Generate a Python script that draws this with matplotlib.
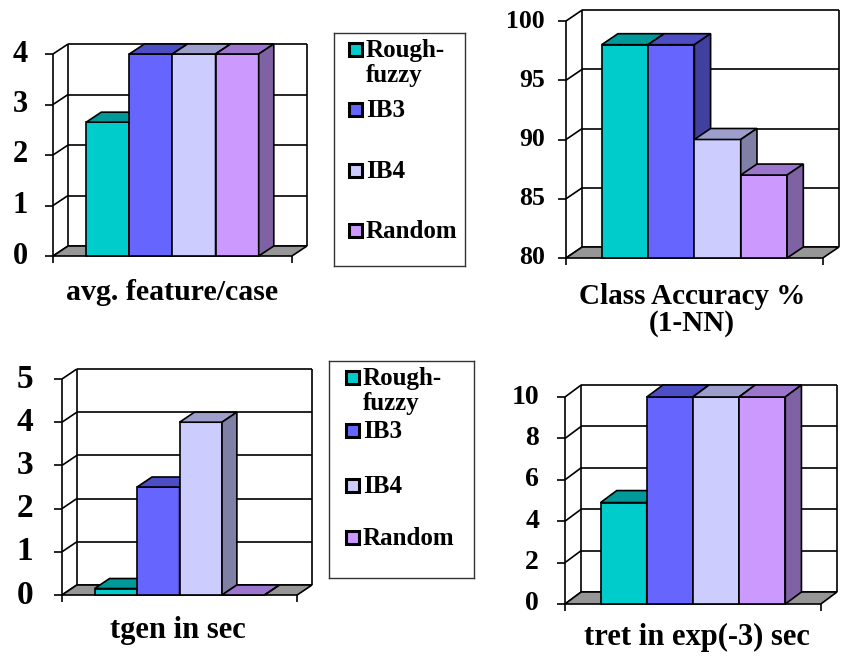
import matplotlib
matplotlib.use('Agg')
import matplotlib.pyplot as plt
from matplotlib.patches import Polygon, Rectangle
from matplotlib.transforms import offset_copy

W, H = 841, 660

# data
series = ['Rough-\nfuzzy', 'IB3', 'IB4', 'Random']
avg_feature = [2.65, 4, 4, 4]
class_acc = [98, 98, 90, 87]
tgen = [0.15, 2.5, 4, 0]
tret = [4.9, 10, 10, 10]

ticks_feature = [0, 1, 2, 3, 4]
ticks_acc = [80, 85, 90, 95, 100]
ticks_tgen = [0, 1, 2, 3, 4, 5]
ticks_tret = [0, 2, 4, 6, 8, 10]

# Excel-like 3D colours: front / top / side faces
front_col = ['#00CCCC', '#6666FF', '#CCCCFF', '#CC99FF']
top_col = ['#009999', '#4D4DC4', '#9E9ECC', '#9C76CC']
side_col = ['#007A7A', '#40409E', '#8080A6', '#7F62A3']
floor_col = '#969696'

plt.rcParams['font.family'] = ['Liberation Serif', 'DejaVu Serif']
plt.rcParams['font.weight'] = 'bold'

fig = plt.figure(figsize=(W / 100, H / 100), dpi=100)
LW = 1.2


def panel(box, values, yticks, depth_px, tick_fs, lab_off, gap=0.77, dx=0.35):
    # box: front-left x, back-top y, back-right x, front-zero y (pixels)
    left, top, right, bottom = box
    ax = fig.add_axes([left / W, 1 - bottom / H, (right - left) / W, (bottom - top) / H])
    ymin, ymax = yticks[0], yticks[-1]
    n = len(values)
    xfront = n + 2 * gap
    xmax = xfront + dx
    unit = (bottom - top - depth_px) / (ymax - ymin)
    dy = depth_px / unit
    ax.set_xlim(0, xmax)
    ax.set_ylim(ymin, ymax + dy)
    ax.axis('off')
    ppx = (right - left) / xmax
    kw = dict(color='black', lw=LW, clip_on=False, solid_capstyle='butt')

    # back wall and side wall
    for v in yticks:
        ax.plot([dx, xmax], [v + dy, v + dy], zorder=1, **kw)
        ax.plot([0, dx], [v, v + dy], zorder=1, **kw)
        ax.plot([-8 / ppx, 0], [v, v], zorder=1, **kw)
        ax.text(0, v, f'{v:g}', ha='right', va='center', fontsize=tick_fs,
                transform=offset_copy(ax.transData, fig=fig, x=-lab_off, y=0, units='dots'))
    ax.plot([dx, dx], [ymin + dy, ymax + dy], zorder=1, **kw)
    ax.plot([xmax, xmax], [ymin + dy, ymax + dy], zorder=1, **kw)
    ax.plot([0, 0], [ymin, ymax], zorder=1, **kw)

    # floor
    ax.add_patch(Polygon([(0, ymin), (xfront, ymin), (xmax, ymin + dy), (dx, ymin + dy)],
                         closed=True, fc=floor_col, ec='black', lw=LW, zorder=2, clip_on=False))
    for xt in (0, xfront):
        ax.plot([xt, xt], [ymin, ymin - 7 / unit], zorder=2, **kw)

    # bars
    for i, v in enumerate(values):
        x0 = gap + i
        z = 3 + i * 3
        ax.bar(x0, v - ymin, bottom=ymin, width=1, align='edge', color=front_col[i],
               edgecolor='black', lw=LW, zorder=z, clip_on=False)
        ax.add_patch(Polygon([(x0, v), (x0 + 1, v), (x0 + 1 + dx, v + dy), (x0 + dx, v + dy)],
                             closed=True, fc=top_col[i], ec='black', lw=LW, zorder=z + 1,
                             clip_on=False))
        ax.add_patch(Polygon([(x0 + 1, ymin), (x0 + 1, v), (x0 + 1 + dx, v + dy),
                              (x0 + 1 + dx, ymin + dy)],
                             closed=True, fc=side_col[i], ec='black', lw=LW, zorder=z + 2,
                             clip_on=False))
    return ax


def legend(box, key_x, text_x, baselines, fs=18):
    x0, y0, x1, y1 = box
    lax = fig.add_axes([x0 / W, 1 - y1 / H, (x1 - x0) / W, (y1 - y0) / H])
    lax.set_xlim(x0, x1)
    lax.set_ylim(y1, y0)
    lax.set_xticks([])
    lax.set_yticks([])
    for s in lax.spines.values():
        s.set_linewidth(1.0)
        s.set_color('#333333')
    for i, name in enumerate(series):
        b = baselines[i]
        lax.add_patch(Rectangle((key_x, b - 14), 13, 13, fc=front_col[i], ec='black', lw=2.2))
        for j, line in enumerate(name.split('\n')):
            lax.text(text_x, b + 25 * j, line, ha='left', va='baseline', fontsize=fs)


panel((53, 44, 307, 256), avg_feature, ticks_feature, 10, 22, 25)
panel((566, 10, 839, 258), class_acc, ticks_acc, 11, 18.5, 21)
panel((62, 369, 312, 595), tgen, ticks_tgen, 10, 24, 29)
panel((565, 385, 837, 604), tret, ticks_tret, 12, 20, 26)

legend((334, 33, 465, 266), 349, 366, [57, 117, 178, 238])
legend((329, 361, 474, 578), 346, 363, [385, 438, 493, 545])

fig.text(172 / W, 1 - 300 / H, 'avg. feature/case', ha='center', va='baseline', fontsize=21.5)
fig.text(692 / W, 1 - 310 / H, 'Class Accuracy %\n(1-NN)', ha='center', va='center',
         fontsize=21, linespacing=0.95)
fig.text(178 / W, 1 - 638 / H, 'tgen in sec', ha='center', va='baseline', fontsize=22)
fig.text(697 / W, 1 - 645 / H, 'tret in exp(-3) sec', ha='center', va='baseline', fontsize=22)

fig.savefig('out.png', dpi=100)
